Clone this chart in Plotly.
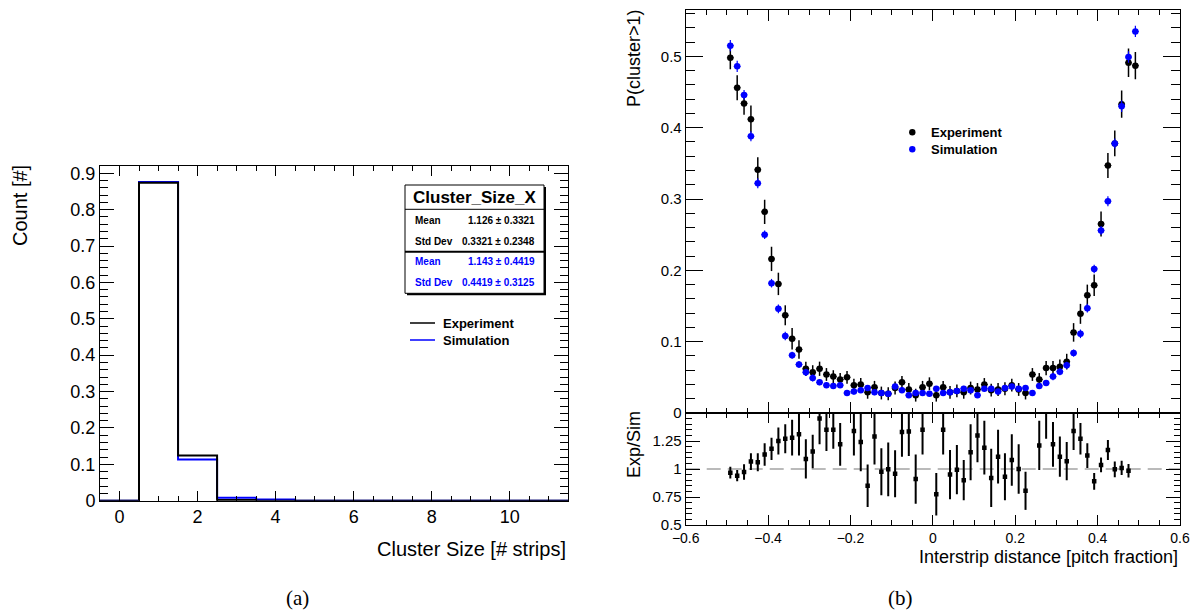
import numpy as np
import plotly.graph_objects as go

W, H = 1200, 613
FONT = "Liberation Sans, Arial, Helvetica, sans-serif"
SERIF = "Liberation Serif, DejaVu Serif, serif"
BLUE = "#0000ff"


def fx(p):
    return p / W


def fy(p):
    return 1 - p / H


# ---------------- (a) cluster size distribution ----------------
cluster_size = [0, 1, 2, 3, 4, 5, 6, 7, 8, 9, 10, 11]
exp_frac = [0.0, 0.874, 0.124, 0.002, 0.0, 0.0, 0.0, 0.0, 0.0, 0.0, 0.0, 0.0]
sim_frac = [0.0, 0.876, 0.113, 0.008, 0.003, 0.0, 0.0, 0.0, 0.0, 0.0, 0.0, 0.0]

stat_title = "Cluster_Size_X"
exp_stats = [("Mean", "1.126 \u00b1 0.3321"), ("Std Dev", "0.3321 \u00b1 0.2348")]
sim_stats = [("Mean", "1.143 \u00b1 0.4419"), ("Std Dev", "0.4419 \u00b1 0.3125")]

# ---------------- (b) P(cluster>1) vs interstrip distance ----------------
n_bins = 60
pitch_centers = -0.5 + (np.arange(n_bins) + 0.5) / n_bins

p_exp = [0.498, 0.456, 0.434, 0.412, 0.341, 0.282, 0.216, 0.181, 0.137, 0.104,
         0.089, 0.062, 0.057, 0.062, 0.054, 0.051, 0.047, 0.050, 0.039, 0.040,
         0.029, 0.036, 0.028, 0.027, 0.035, 0.043, 0.033, 0.025, 0.036, 0.041,
         0.025, 0.036, 0.029, 0.031, 0.029, 0.035, 0.033, 0.040, 0.032, 0.033,
         0.034, 0.039, 0.033, 0.028, 0.054, 0.047, 0.063, 0.063, 0.065, 0.072,
         0.113, 0.139, 0.165, 0.179, 0.265, 0.347, 0.378, 0.433, 0.491, 0.487]
p_exp_err = [0.016, 0.0175, 0.016, 0.019, 0.0175, 0.017, 0.017, 0.0157, 0.014, 0.015,
             0.013, 0.010, 0.010, 0.010, 0.009, 0.009, 0.009, 0.009, 0.009, 0.009,
             0.009, 0.009, 0.009, 0.009, 0.009, 0.009, 0.009, 0.009, 0.009, 0.009,
             0.009, 0.009, 0.009, 0.009, 0.009, 0.009, 0.009, 0.009, 0.009, 0.009,
             0.009, 0.009, 0.009, 0.009, 0.009, 0.009, 0.010, 0.010, 0.010, 0.011,
             0.013, 0.014, 0.015, 0.015, 0.0175, 0.0175, 0.018, 0.019, 0.020, 0.019]

p_sim = [0.515, 0.486, 0.446, 0.388, 0.322, 0.250, 0.182, 0.146, 0.108, 0.081,
         0.068, 0.057, 0.049, 0.043, 0.039, 0.038, 0.039, 0.028, 0.030, 0.032,
         0.035, 0.029, 0.028, 0.027, 0.037, 0.032, 0.025, 0.028, 0.028, 0.027,
         0.034, 0.028, 0.029, 0.031, 0.034, 0.032, 0.025, 0.034, 0.034, 0.030,
         0.035, 0.037, 0.034, 0.035, 0.028, 0.038, 0.042, 0.051, 0.058, 0.067,
         0.084, 0.111, 0.147, 0.202, 0.256, 0.297, 0.378, 0.430, 0.499, 0.535]
p_sim_err = [0.008, 0.008, 0.007, 0.007, 0.007, 0.006, 0.006, 0.006, 0.006, 0.005,
             0.005, 0.005, 0.005, 0.004, 0.004, 0.004, 0.004, 0.004, 0.004, 0.004,
             0.004, 0.004, 0.004, 0.004, 0.004, 0.004, 0.004, 0.004, 0.004, 0.004,
             0.004, 0.004, 0.004, 0.004, 0.004, 0.004, 0.004, 0.004, 0.004, 0.004,
             0.004, 0.004, 0.004, 0.004, 0.004, 0.004, 0.004, 0.005, 0.005, 0.005,
             0.005, 0.006, 0.006, 0.006, 0.006, 0.007, 0.007, 0.008, 0.008, 0.008]

ratio = [0.967, 0.94, 0.973, 1.066, 1.06, 1.13, 1.18, 1.25, 1.27, 1.28,
         1.31, 1.09, 1.156, 1.45, 1.35, 1.35, 1.22, 1.79, 1.34, 1.24,
         0.85, 1.29, 0.976, 0.997, 0.958, 1.33, 1.335, 0.91, 1.35, 1.70,
         0.775, 1.35, 0.95, 0.994, 0.90, 1.15, 1.30, 1.19, 0.92, 1.11,
         0.93, 1.08, 1.00, 0.805, 1.93, 1.21, 1.52, 1.22, 1.11, 1.07,
         1.34, 1.27, 1.12, 0.89, 1.036, 1.17, 0.997, 1.01, 0.985, None]
ratio_err = [0.052, 0.05, 0.07, 0.075, 0.08, 0.10, 0.10, 0.12, 0.13, 0.16,
             0.19, 0.175, 0.15, 0.23, 0.19, 0.17, 0.19, 0.25, 0.22, 0.26,
             0.19, 0.25, 0.21, 0.24, 0.21, 0.22, 0.22, 0.22, 0.22, 0.20,
             0.19, 0.22, 0.22, 0.22, 0.18, 0.25, 0.24, 0.24, 0.26, 0.24,
             0.21, 0.23, 0.22, 0.17, 0.30, 0.22, 0.25, 0.20, 0.18, 0.17,
             0.17, 0.14, 0.11, 0.075, 0.066, 0.09, 0.07, 0.064, 0.06, None]

half_bin = [0.5 / n_bins] * n_bins

fig = go.Figure()


def step_xy(centers, values):
    edges = [c - 0.5 for c in centers] + [centers[-1] + 0.5]
    return edges, list(values) + [values[-1]]


sx, sy = step_xy(cluster_size, sim_frac)
fig.add_trace(go.Scatter(x=sx, y=sy, mode="lines", line=dict(color=BLUE, width=2, shape="hv"),
                         xaxis="x", yaxis="y", showlegend=False, hoverinfo="skip"))
ex, ey = step_xy(cluster_size, exp_frac)
fig.add_trace(go.Scatter(x=ex, y=ey, mode="lines", line=dict(color="black", width=2, shape="hv"),
                         xaxis="x", yaxis="y", showlegend=False, hoverinfo="skip"))

# upper right: probabilities
fig.add_trace(go.Scatter(
    x=pitch_centers, y=p_exp, mode="markers",
    marker=dict(color="black", size=6.5, line=dict(width=0)),
    error_y=dict(type="data", array=p_exp_err, color="black", thickness=1.5, width=0),
    error_x=dict(type="data", array=half_bin, color="black", thickness=1, width=0),
    xaxis="x2", yaxis="y2", showlegend=False))
fig.add_trace(go.Scatter(
    x=pitch_centers, y=p_sim, mode="markers",
    marker=dict(color=BLUE, size=6.5, line=dict(width=0)),
    error_y=dict(type="data", array=p_sim_err, color=BLUE, thickness=1.2, width=0),
    error_x=dict(type="data", array=half_bin, color=BLUE, thickness=1, width=0),
    xaxis="x2", yaxis="y2", showlegend=False))

# lower right: ratio
fig.add_trace(go.Scatter(
    x=pitch_centers, y=ratio, mode="markers",
    marker=dict(color="black", size=4.5, symbol="square", line=dict(width=0)),
    error_y=dict(type="data", array=ratio_err, color="black", thickness=2, width=0),
    xaxis="x3", yaxis="y3", showlegend=False))

tickfont_a = dict(family=FONT, size=18, color="black")
tickfont_b = dict(family=FONT, size=15, color="black")

common = dict(showline=True, linecolor="black", linewidth=1, mirror="ticks",
              ticks="inside", tickcolor="black", tickwidth=1, showgrid=False,
              zeroline=False, automargin=False)

fig.update_layout(
    width=W, height=H, margin=dict(l=0, r=0, t=0, b=0, autoexpand=False),
    paper_bgcolor="white", plot_bgcolor="white",
    xaxis=dict(domain=[fx(100), fx(568.3)], anchor="y", range=[-0.5, 11.5],
               dtick=2, tick0=0, ticklen=10, tickfont=tickfont_a,
               minor=dict(dtick=0.5, ticklen=5, ticks="inside", tickcolor="black"),
               **common),
    yaxis=dict(domain=[fy(500.7), fy(166)], anchor="x", range=[0, 0.92],
               dtick=0.1, tick0=0, ticklen=14, tickfont=tickfont_a,
               minor=dict(dtick=0.02, ticklen=8, ticks="inside", tickcolor="black"),
               **common),
    xaxis2=dict(domain=[fx(685.7), fx(1180)], anchor="y2", range=[-0.6, 0.6],
                dtick=0.2, tick0=0, ticklen=11, showticklabels=False,
                minor=dict(dtick=0.05, ticklen=5, ticks="inside", tickcolor="black"),
                **common),
    yaxis2=dict(domain=[fy(413), fy(10)], anchor="x2", range=[0, 0.565],
                dtick=0.1, tick0=0, ticklen=17, tickfont=tickfont_b,
                minor=dict(dtick=0.02, ticklen=9, ticks="inside", tickcolor="black"),
                **common),
    xaxis3=dict(domain=[fx(685.7), fx(1180)], anchor="y3", range=[-0.6, 0.6],
                dtick=0.2, tick0=0, ticklen=10, tickfont=dict(family=FONT, size=14, color="black"),
                minor=dict(dtick=0.05, ticklen=5, ticks="inside", tickcolor="black"),
                **common),
    yaxis3=dict(domain=[fy(525), fy(413)], anchor="x3", range=[0.5, 1.5],
                tickvals=[0.5, 0.75, 1.0, 1.25], ticktext=["0.5", "0.75", "1", "1.25"],
                ticklen=14, tickfont=tickfont_b,
                minor=dict(dtick=0.05, ticklen=6, ticks="inside", tickcolor="black"),
                **common),
)

shapes = []
annotations = []

# ratio reference line
shapes.append(dict(type="line", xref="x3", yref="y3", x0=-0.6, x1=0.6, y0=1, y1=1,
                   line=dict(color="#777777", width=1.2, dash="14px,7px"), layer="below"))

# stat box (shadow, then frames)
bx0, bx1, by0, bmid, by1 = 405, 544, 185, 251.7, 293.3
shapes.append(dict(type="rect", xref="paper", yref="paper",
                   x0=fx(bx0 + 2), x1=fx(bx1 + 2), y0=fy(by1 + 2), y1=fy(by0 + 2),
                   fillcolor="black", line=dict(width=0)))
shapes.append(dict(type="rect", xref="paper", yref="paper",
                   x0=fx(bx0), x1=fx(bx1), y0=fy(by1), y1=fy(by0),
                   fillcolor="white", line=dict(color="black", width=1)))
shapes.append(dict(type="line", xref="paper", yref="paper",
                   x0=fx(bx0), x1=fx(bx1), y0=fy(209.3), y1=fy(209.3),
                   line=dict(color="black", width=1)))
shapes.append(dict(type="line", xref="paper", yref="paper",
                   x0=fx(bx0), x1=fx(bx1), y0=fy(bmid), y1=fy(bmid),
                   line=dict(color="black", width=2)))

annotations.append(dict(text="<b>%s</b>" % stat_title, xref="paper", yref="paper",
                        x=fx((bx0 + bx1) / 2), y=fy(197.3), xanchor="center", yanchor="middle",
                        showarrow=False, font=dict(family=FONT, size=17, color="black")))
rows = [(exp_stats, "black", [220.7, 241.0]), (sim_stats, BLUE, [261.7, 282.3])]
for stats, col, ys in rows:
    for (name, val), yy in zip(stats, ys):
        annotations.append(dict(text="<b>%s</b>" % name, xref="paper", yref="paper",
                                x=fx(412.5), y=fy(yy), xanchor="left", yanchor="middle",
                                showarrow=False, font=dict(family=FONT, size=10, color=col)))
        annotations.append(dict(text="<b>%s</b>" % val, xref="paper", yref="paper",
                                x=fx(537), y=fy(yy), xanchor="right", yanchor="middle",
                                showarrow=False, font=dict(family=FONT, size=10, color=col)))

# legend of (a)
for label, col, yy in [("Experiment", "black", 323), ("Simulation", BLUE, 340)]:
    shapes.append(dict(type="line", xref="paper", yref="paper",
                       x0=fx(410), x1=fx(435), y0=fy(yy), y1=fy(yy),
                       line=dict(color=col, width=1.5)))
    annotations.append(dict(text="<b>%s</b>" % label, xref="paper", yref="paper",
                            x=fx(441), y=fy(yy), xanchor="left", yanchor="middle",
                            showarrow=False, font=dict(family=FONT, size=13, color="black")))

# legend of (b)
for label, col, yy in [("Experiment", "black", 132.3), ("Simulation", BLUE, 149.3)]:
    r = 3.2
    shapes.append(dict(type="circle", xref="paper", yref="paper",
                       x0=fx(912.3 - r), x1=fx(912.3 + r), y0=fy(yy + r), y1=fy(yy - r),
                       fillcolor=col, line=dict(width=0)))
    annotations.append(dict(text="<b>%s</b>" % label, xref="paper", yref="paper",
                            x=fx(929), y=fy(yy), xanchor="left", yanchor="middle",
                            showarrow=False, font=dict(family=FONT, size=13, color="black")))

# axis titles
title_font = dict(family=FONT, size=20, color="black")
title_font_b = dict(family=FONT, size=18, color="black")
annotations += [
    dict(text="Count [#]", xref="paper", yref="paper", x=fx(20), y=fy(206),
         textangle=-90, xanchor="center", yanchor="middle", showarrow=False, font=title_font),
    dict(text="Cluster Size [# strips]", xref="paper", yref="paper", x=fx(568.3), y=fy(549),
         xanchor="right", yanchor="middle", showarrow=False, font=title_font),
    dict(text="P(cluster>1)", xref="paper", yref="paper", x=fx(634), y=fy(58),
         textangle=-90, xanchor="center", yanchor="middle", showarrow=False, font=title_font_b),
    dict(text="Exp/Sim", xref="paper", yref="paper", x=fx(634), y=fy(445),
         textangle=-90, xanchor="center", yanchor="middle", showarrow=False, font=title_font_b),
    dict(text="Interstrip distance [pitch fraction]", xref="paper", yref="paper",
         x=fx(1180), y=fy(557), xanchor="right", yanchor="middle", showarrow=False,
         font=title_font_b),
    dict(text="(a)", xref="paper", yref="paper", x=fx(297), y=fy(598),
         xanchor="center", yanchor="middle", showarrow=False,
         font=dict(family=SERIF, size=21, color="black")),
    dict(text="(b)", xref="paper", yref="paper", x=fx(900), y=fy(598),
         xanchor="center", yanchor="middle", showarrow=False,
         font=dict(family=SERIF, size=21, color="black")),
]

fig.update_layout(shapes=shapes, annotations=annotations)
fig.write_html("out.html")
